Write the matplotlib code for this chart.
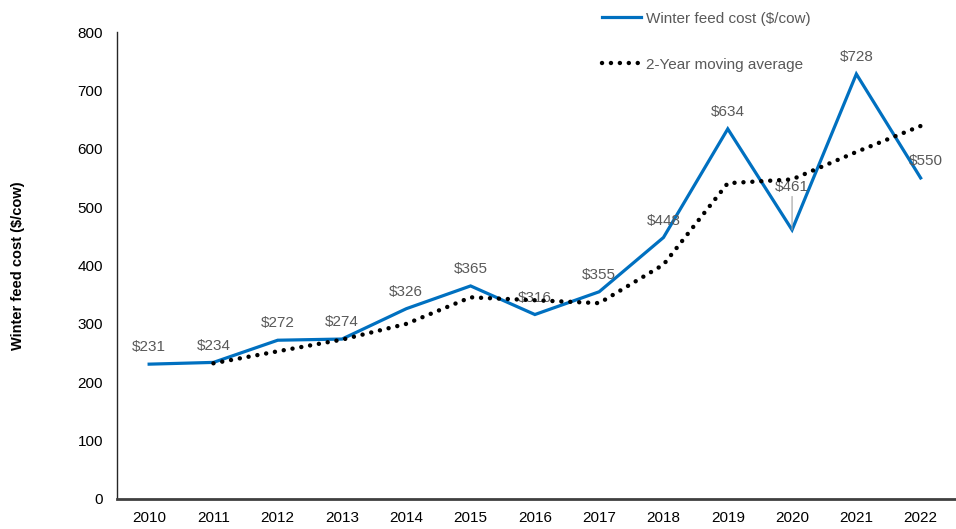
import matplotlib
matplotlib.use("Agg")
import matplotlib.pyplot as plt

years = ["2010", "2011", "2012", "2013", "2014", "2015", "2016",
         "2017", "2018", "2019", "2020", "2021", "2022"]
cost = [231, 234, 272, 274, 326, 365, 316, 355, 448, 634, 461, 728, 550]
mavg_years = years[1:]
mavg = [232.5, 253, 273, 300, 345.5, 340.5, 335.5, 401.5, 541, 547.5, 594.5, 639]
labels = ["$231", "$234", "$272", "$274", "$326", "$365", "$316",
          "$355", "$448", "$634", "$461", "$728", "$550"]

plt.rcParams['font.family'] = ['Liberation Sans', 'DejaVu Sans']

W, H = 956, 529
fig = plt.figure(figsize=(W / 100, H / 100), dpi=100)
ax = fig.add_axes([117 / W, 1 - 499 / H, (956 - 117) / W, (499 - 32) / H])

x = list(range(len(years)))
xm = x[1:]
blue = "#0070C0"
ax.plot(x, cost, color=blue, lw=2.3, solid_joinstyle='miter', label="Winter feed cost ($/cow)", zorder=3)
ax.plot(xm, mavg, color="black", lw=3.2, linestyle=(0, (0.01, 2.0)), dash_capstyle='round',
        label="2-Year moving average", zorder=4)

ax.set_xlim(-0.5, len(years) - 0.45)
ax.set_ylim(0, 800)
ax.set_yticks(range(0, 801, 100))
ax.set_xticks(x)
ax.set_xticklabels(years)
ax.tick_params(axis='both', length=0, labelsize=11, colors="black")
ax.tick_params(axis='x', pad=9)
ax.tick_params(axis='y', pad=10)
for s in ["top", "right"]:
    ax.spines[s].set_visible(False)
ax.spines["left"].set_color("#262626")
ax.spines["left"].set_linewidth(1.0)
ax.spines["bottom"].set_color("#404040")
ax.spines["bottom"].set_linewidth(2.0)

ax.set_ylabel("Winter feed cost ($/cow)", fontsize=10.5, fontweight='bold')
ax.yaxis.set_label_coords(-(117 - 25) / (956 - 117), 0.5)

gray = "#595959"
for i, (v, t) in enumerate(zip(cost, labels)):
    if t == "$461":
        ax.annotate(t, xy=(i, v), xytext=(i, v + 62), ha='center', va='bottom',
                    fontsize=11, color=gray,
                    arrowprops=dict(arrowstyle='-', color='#A0A0A0', lw=0.8, shrinkA=0, shrinkB=0))
    elif t == "$550":
        ax.annotate(t, xy=(i, v), xytext=(4, 7), textcoords='offset points',
                    ha='center', va='bottom', fontsize=11, color=gray)
    else:
        ax.annotate(t, xy=(i, v), xytext=(0, 7), textcoords='offset points',
                    ha='center', va='bottom', fontsize=11, color=gray)

leg = fig.legend(loc='upper left', bbox_to_anchor=(588 / W, 1 + 2 / H), frameon=False,
                 fontsize=11, labelspacing=2.1, handlelength=2.6, handletextpad=0.3,
                 labelcolor=gray)

fig.savefig("out.png", dpi=100)
